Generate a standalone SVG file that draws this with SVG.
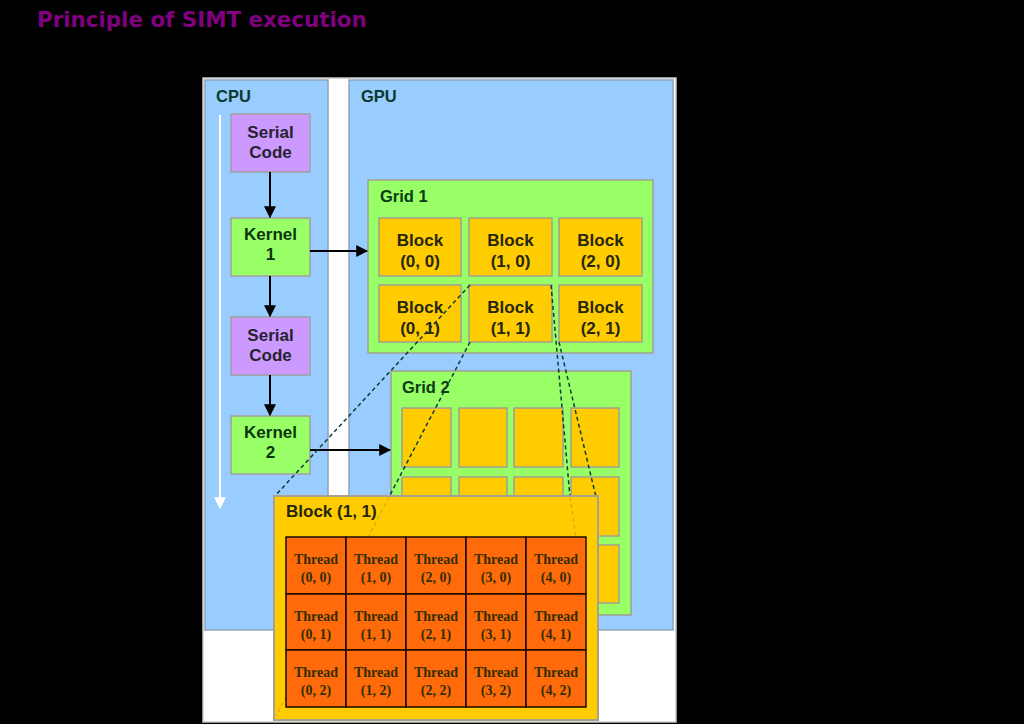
<svg xmlns="http://www.w3.org/2000/svg" width="1024" height="724" viewBox="0 0 1024 724">
<defs>
<style>
.sans{font-family:"Liberation Sans",Arial,sans-serif;font-weight:bold;}
.lbl{font-size:16.5px;fill:#0b3b2b;}
.box-t{font-size:17px;text-anchor:middle;}
.serial{fill:#26222f;}
.kern{fill:#0b350e;}
.blk{fill:#262610;}
.thr{font-family:"Liberation Serif","Times New Roman",serif;font-weight:bold;font-size:14px;fill:#332e00;text-anchor:middle;}
.panel{fill:#99ccff;stroke:#8fa3b8;stroke-width:1.5;}
.grid{fill:#99ff66;stroke:#a0a090;stroke-width:1.5;}
.yb{fill:#ffcc00;stroke:#a0a090;stroke-width:1.5;}
.vio{fill:#cc99ff;stroke:#a0a0a0;stroke-width:1.5;}
.kbox{fill:#99ff66;stroke:#a0a0a0;stroke-width:1.5;}
.cell{fill:#ff6a0a;stroke:#1a0a00;stroke-width:1.5;}
.arr{stroke:#000;stroke-width:2;fill:none;marker-end:url(#ah);}
.dash{stroke:#123a3a;stroke-width:1.5;stroke-dasharray:4 3;fill:none;}
.faint{stroke:#8a6a20;stroke-width:1.2;stroke-dasharray:4 3;fill:none;opacity:0.35;}
</style>
<marker id="ah" viewBox="0 0 10 10" refX="9" refY="5" markerWidth="6" markerHeight="6" orient="auto" markerUnits="strokeWidth">
<path d="M0,0 L10,5 L0,10 z" fill="#000"/>
</marker>
<marker id="wah" viewBox="0 0 10 10" refX="9" refY="5" markerWidth="8" markerHeight="6" orient="auto" markerUnits="strokeWidth">
<path d="M0,0 L10,5 L0,10 z" fill="#fff"/>
</marker>
</defs>
<rect x="0" y="0" width="1024" height="724" fill="#000"/>
<text x="37" y="27" font-family="DejaVu Sans,Verdana,sans-serif" font-weight="bold" font-size="21.4" fill="#800080">Principle of SIMT execution</text>

<rect x="203" y="78" width="473" height="644" fill="#fff" stroke="#c8c8c8" stroke-width="1.5"/>

<g id="cpu">
<rect class="panel" x="205" y="80" width="123" height="550"/>
<text class="sans lbl" x="216" y="102">CPU</text>
<line x1="220" y1="115" x2="220" y2="508" stroke="#fff" stroke-width="2" marker-end="url(#wah)"/>
</g>

<g id="gpu">
<rect class="panel" x="349" y="80" width="324" height="550"/>
<text class="sans lbl" x="361" y="102">GPU</text>
</g>

<g id="grid1">
<rect class="grid" x="368" y="180" width="285" height="173"/>
<text class="sans lbl" x="380" y="202" style="fill:#0b3b12">Grid 1</text>
</g>
<g id="block-0-0"><rect class="yb" x="379" y="218" width="82" height="58"/><text class="sans box-t blk" x="420" y="246">Block</text><text class="sans box-t blk" x="420" y="267">(0, 0)</text></g>
<g id="block-1-0"><rect class="yb" x="469" y="218" width="83" height="58"/><text class="sans box-t blk" x="510.5" y="246">Block</text><text class="sans box-t blk" x="510.5" y="267">(1, 0)</text></g>
<g id="block-2-0"><rect class="yb" x="559" y="218" width="83" height="58"/><text class="sans box-t blk" x="600.5" y="246">Block</text><text class="sans box-t blk" x="600.5" y="267">(2, 0)</text></g>
<g id="block-0-1"><rect class="yb" x="379" y="285" width="82" height="57"/><text class="sans box-t blk" x="420" y="313">Block</text><text class="sans box-t blk" x="420" y="334">(0, 1)</text></g>
<g id="block-1-1"><rect class="yb" x="469" y="285" width="83" height="57"/><text class="sans box-t blk" x="510.5" y="313">Block</text><text class="sans box-t blk" x="510.5" y="334">(1, 1)</text></g>
<g id="block-2-1"><rect class="yb" x="559" y="285" width="83" height="57"/><text class="sans box-t blk" x="600.5" y="313">Block</text><text class="sans box-t blk" x="600.5" y="334">(2, 1)</text></g>

<g id="grid2">
<rect class="grid" x="391" y="371" width="240" height="244"/>
<text class="sans lbl" x="402" y="393" style="fill:#0b3b12">Grid 2</text>
<rect class="yb" x="402" y="408" width="49" height="59"/>
<rect class="yb" x="459" y="408" width="48" height="59"/>
<rect class="yb" x="514" y="408" width="49" height="59"/>
<rect class="yb" x="571" y="408" width="48" height="59"/>
<rect class="yb" x="402" y="477" width="49" height="59"/>
<rect class="yb" x="459" y="477" width="48" height="59"/>
<rect class="yb" x="514" y="477" width="49" height="59"/>
<rect class="yb" x="571" y="477" width="48" height="59"/>
<rect class="yb" x="402" y="545" width="49" height="58"/>
<rect class="yb" x="459" y="545" width="48" height="58"/>
<rect class="yb" x="514" y="545" width="49" height="58"/>
<rect class="yb" x="571" y="545" width="48" height="58"/>
</g>

<g id="serial1"><rect class="vio" x="231" y="114" width="79" height="58"/><text class="sans box-t serial" x="270.5" y="138">Serial</text><text class="sans box-t serial" x="270.5" y="158">Code</text></g>
<g id="kernel1"><rect class="kbox" x="231" y="218" width="79" height="58"/><text class="sans box-t kern" x="270.5" y="240">Kernel</text><text class="sans box-t kern" x="270.5" y="260">1</text></g>
<g id="serial2"><rect class="vio" x="231" y="317" width="79" height="58"/><text class="sans box-t serial" x="270.5" y="341">Serial</text><text class="sans box-t serial" x="270.5" y="361">Code</text></g>
<g id="kernel2"><rect class="kbox" x="231" y="416" width="79" height="58"/><text class="sans box-t kern" x="270.5" y="438">Kernel</text><text class="sans box-t kern" x="270.5" y="458">2</text></g>

<g id="connectors">
<line class="arr" x1="270" y1="172" x2="270" y2="217"/>
<line class="arr" x1="270" y1="276" x2="270" y2="316"/>
<line class="arr" x1="270" y1="375" x2="270" y2="415"/>
<line class="arr" x1="310" y1="251" x2="367" y2="251"/>
<line class="arr" x1="310" y1="450" x2="390" y2="450"/>
<line class="dash" x1="470" y1="285" x2="274" y2="497"/>
<line class="dash" x1="470" y1="342" x2="389" y2="497"/>
<line class="dash" x1="551" y1="285" x2="570" y2="497"/>
<line class="dash" x1="559" y1="342" x2="596" y2="497"/>
</g>

<g id="block-1-1-detail">
<rect x="274" y="496" width="324" height="224" fill="#ffcc00" stroke="#a8a090" stroke-width="2"/>
<line class="faint" x1="389" y1="497" x2="276" y2="716"/>
<line class="faint" x1="570" y1="497" x2="576" y2="537"/>
<text class="sans" x="286" y="517" font-size="17" fill="#262610">Block (1, 1)</text>
</g>

<g id="threads">
<rect class="cell" x="286" y="537" width="60" height="57"/><rect class="cell" x="346" y="537" width="60" height="57"/><rect class="cell" x="406" y="537" width="60" height="57"/><rect class="cell" x="466" y="537" width="60" height="57"/><rect class="cell" x="526" y="537" width="60" height="57"/>
<rect class="cell" x="286" y="594" width="60" height="56"/><rect class="cell" x="346" y="594" width="60" height="56"/><rect class="cell" x="406" y="594" width="60" height="56"/><rect class="cell" x="466" y="594" width="60" height="56"/><rect class="cell" x="526" y="594" width="60" height="56"/>
<rect class="cell" x="286" y="650" width="60" height="57"/><rect class="cell" x="346" y="650" width="60" height="57"/><rect class="cell" x="406" y="650" width="60" height="57"/><rect class="cell" x="466" y="650" width="60" height="57"/><rect class="cell" x="526" y="650" width="60" height="57"/>
<text class="thr" x="316" y="564">Thread</text><text class="thr" x="316" y="582">(0, 0)</text>
<text class="thr" x="376" y="564">Thread</text><text class="thr" x="376" y="582">(1, 0)</text>
<text class="thr" x="436" y="564">Thread</text><text class="thr" x="436" y="582">(2, 0)</text>
<text class="thr" x="496" y="564">Thread</text><text class="thr" x="496" y="582">(3, 0)</text>
<text class="thr" x="556" y="564">Thread</text><text class="thr" x="556" y="582">(4, 0)</text>
<text class="thr" x="316" y="621">Thread</text><text class="thr" x="316" y="639">(0, 1)</text>
<text class="thr" x="376" y="621">Thread</text><text class="thr" x="376" y="639">(1, 1)</text>
<text class="thr" x="436" y="621">Thread</text><text class="thr" x="436" y="639">(2, 1)</text>
<text class="thr" x="496" y="621">Thread</text><text class="thr" x="496" y="639">(3, 1)</text>
<text class="thr" x="556" y="621">Thread</text><text class="thr" x="556" y="639">(4, 1)</text>
<text class="thr" x="316" y="677">Thread</text><text class="thr" x="316" y="695">(0, 2)</text>
<text class="thr" x="376" y="677">Thread</text><text class="thr" x="376" y="695">(1, 2)</text>
<text class="thr" x="436" y="677">Thread</text><text class="thr" x="436" y="695">(2, 2)</text>
<text class="thr" x="496" y="677">Thread</text><text class="thr" x="496" y="695">(3, 2)</text>
<text class="thr" x="556" y="677">Thread</text><text class="thr" x="556" y="695">(4, 2)</text>
</g>
</svg>
